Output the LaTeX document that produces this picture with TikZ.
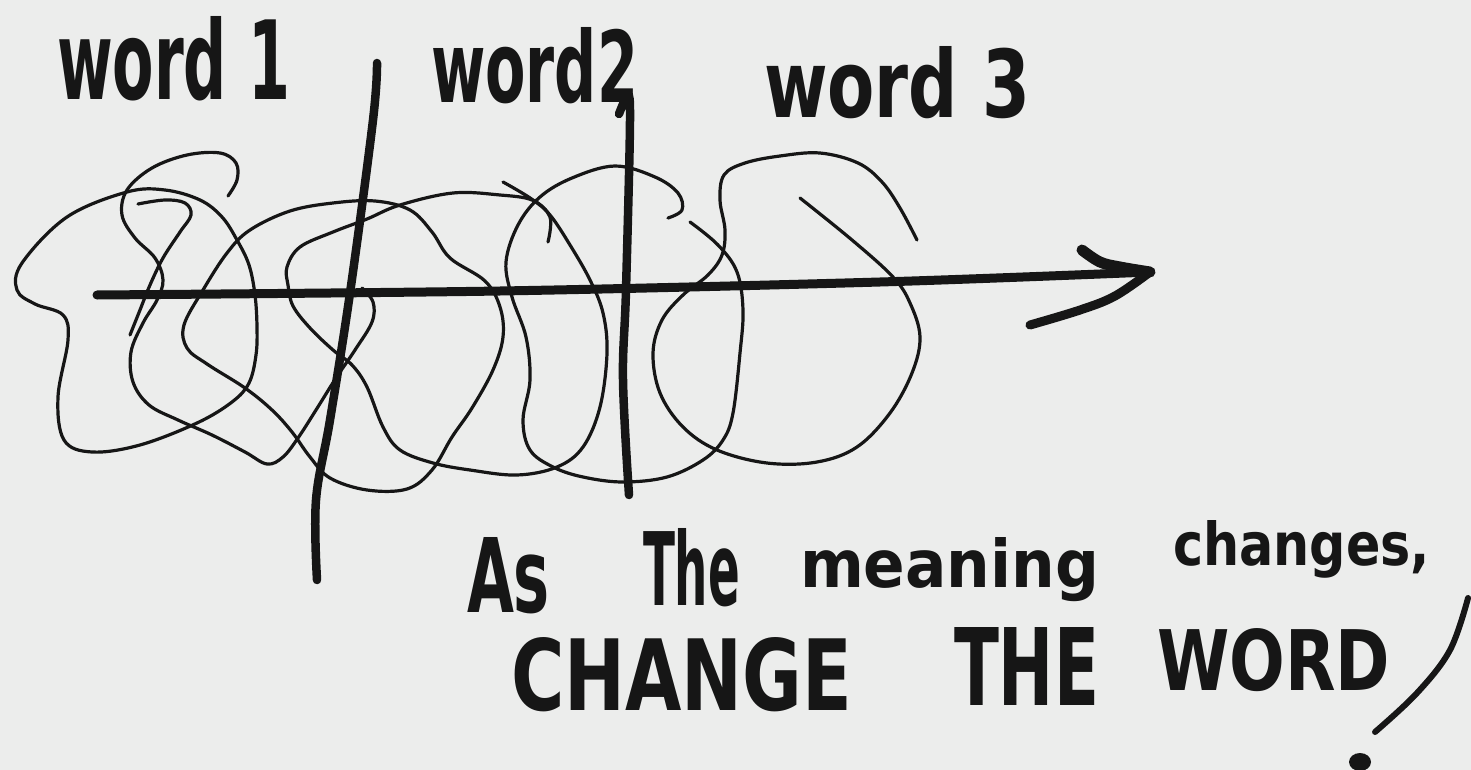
\documentclass[tikz,border=0pt]{standalone}
\usepackage{fontspec}
\setmainfont{DejaVu Sans}
\usepackage{graphicx}
\definecolor{paper}{RGB}{236,237,236}
\definecolor{ink}{RGB}{22,22,22}
\newcommand{\hwtext}[3]{\resizebox{#1pt}{#2pt}{\bfseries #3}}
\tikzset{
  scrib/.style={draw=ink, line width=3.2pt, line cap=round, line join=round},
  barline/.style={draw=ink, line width=8.5pt, line cap=round},
  barb/.style={draw=ink, line width=11pt, line cap=round},
  hand/.style={inner sep=0pt, outer sep=0pt, anchor=base west, text=ink},
}
\begin{document}
\begin{tikzpicture}[x=1pt,y=-1pt]
\fill[paper] (0,0) rectangle (1471,770);
\useasboundingbox (0,0) rectangle (1471,770);

% top labels
\node[hand] (w1) at (57,100) {\hwtext{233}{83}{word 1}};
\node[hand] (w2) at (431,103) {\hwtext{207}{75}{word2}};
\node[hand] (w3) at (764,118) {\hwtext{266}{71}{word 3}};

% scribble
\draw[scrib] plot[smooth cycle, tension=0.6] coordinates {(127,192) (165,190) (200,200) (222,217) (237,240) (249,265) (255,295) (257,327) (256,355) (249,383) (232,402) (197,423) (140,445) (92,452) (64,440) (58,397) (68,340) (63,315) (35,304) (17,290) (22,263) (67,217)};
\draw[scrib] plot[smooth, tension=0.6] coordinates {(228,196) (237,180) (236,163) (220,153) (187,155) (152,168) (127,190) (122,215) (135,238) (155,258) (163,280) (157,300) (143,323) (131,352) (133,382) (149,405) (178,420) (212,435) (245,452) (267,464) (283,457) (298,438) (316,410) (336,378) (355,350) (372,322) (373,302) (362,288)};
\draw[scrib] plot[smooth, tension=0.6] coordinates {(138,204) (165,200) (185,203) (191,215) (180,232) (163,258) (150,285) (140,310) (130,335)};
\draw[scrib] plot[smooth cycle, tension=0.6] coordinates {(203,290) (227,253) (250,230) (290,211) (333,203) (375,201) (410,210) (432,232) (450,258) (485,281) (500,307) (503,337) (493,370) (472,408) (452,437) (432,470) (407,489) (367,490) (330,478) (310,457) (292,432) (272,410) (245,388) (207,364) (187,348) (184,325)};
\draw[scrib] plot[smooth cycle, tension=0.6] coordinates {(287,267) (300,247) (333,232) (367,219) (400,205) (453,193) (500,195) (532,200) (550,215) (570,245) (590,280) (603,313) (607,353) (600,407) (583,447) (557,467) (517,475) (470,470) (433,463) (400,450) (383,427) (367,387) (352,365) (333,350) (310,328) (293,306) (288,285)};
\draw[scrib] plot[smooth, tension=0.6] coordinates {(503,182) (533,200) (550,217) (548,242)};
\draw[scrib] plot[smooth, tension=0.6] coordinates {(668,218) (682,210) (678,193) (655,177) (615,166) (572,178) (540,197) (518,225) (506,262) (512,297) (526,337) (530,380) (523,420) (530,450) (553,467) (583,477) (623,482) (667,477) (703,460) (723,440) (733,413) (740,353) (743,310) (737,272) (718,245) (690,222)};
\draw[scrib] plot[smooth, tension=0.6] coordinates {(917,240) (900,208) (882,182) (858,163) (820,153) (780,156) (745,163) (724,175) (720,200) (725,230) (722,255) (708,275) (683,295) (662,320) (653,353) (660,393) (683,427) (717,450) (767,463) (817,462) (857,447) (890,413) (912,373) (920,337) (910,303) (893,277) (852,240) (800,198)};

% dividers
\coordinate (d1top) at (377,63);
\coordinate (d1bot) at (317,580);
\coordinate (d2top) at (627,98);
\coordinate (d2bot) at (629,495);
\draw[barline] plot[smooth, tension=0.6] coordinates {(d1top) (373,120) (350,293) (330,420) (316,500) (d1bot)};
\draw[barline] plot[smooth, tension=0.6] coordinates {(619,114) (d2top) (630,120) (626,290) (623,380) (d2bot)};

% arrow
\coordinate (astart) at (97,295);
\coordinate (atip) at (1150,272);
\draw[draw=ink, line width=9pt, line cap=round] plot[smooth, tension=0.5] coordinates {(astart) (500,291) (880,282) (atip)};
\draw[barb] plot[smooth, tension=0.6] coordinates {(1082,250) (1100,262) (1120,267) (atip)};
\draw[draw=ink, line width=9pt, line cap=round] plot[smooth, tension=0.6] coordinates {(1030,325) (1080,310) (1115,296) (atip)};

% bottom text
\node[hand] (t1) at (467,612) {\hwtext{83}{75}{As}};
\node[hand] (t2) at (643,605) {\hwtext{97}{77}{The}};
\node[hand] (t3) at (800,587) {\hwtext{299}{50}{meaning}};
\node[hand] (t4) at (1173,565) {\hwtext{257}{45}{changes,}};
\node[hand] (t5) at (511,710) {\hwtext{341}{73}{CHANGE}};
\node[hand] (t6) at (954,705) {\hwtext{145}{78}{THE}};
\node[hand] (t7) at (1157,690) {\hwtext{233}{62}{WORD}};

% exclamation
\coordinate (extop) at (1468,598);
\coordinate (exbot) at (1375,732);
\draw[draw=ink, line width=6pt, line cap=round] plot[smooth, tension=0.6] coordinates {(extop) (1450,650) (1417,693) (exbot)};
\fill[ink] (1360,762) ellipse [x radius=11, y radius=9];
\end{tikzpicture}
\end{document}
